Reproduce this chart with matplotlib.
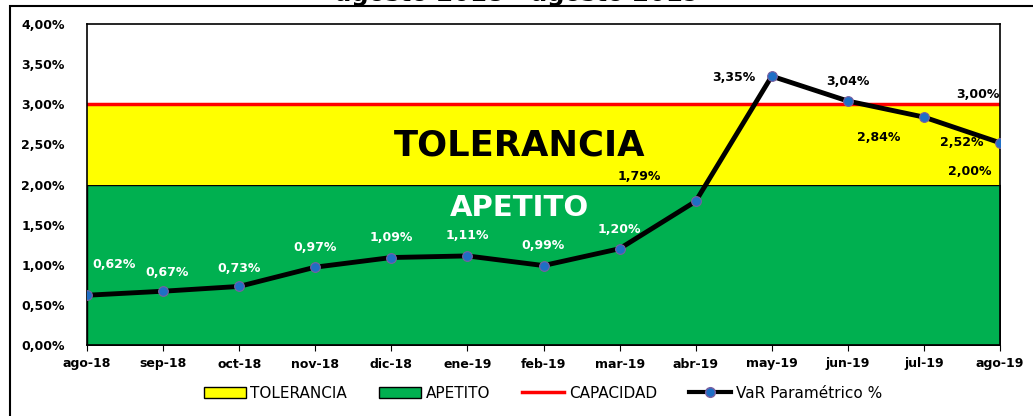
import matplotlib.pyplot as plt
from matplotlib.patches import Rectangle, Patch
from matplotlib.lines import Line2D
from matplotlib.ticker import FuncFormatter

months = ['ago-18', 'sep-18', 'oct-18', 'nov-18', 'dic-18', 'ene-19', 'feb-19',
          'mar-19', 'abr-19', 'may-19', 'jun-19', 'jul-19', 'ago-19']
var_param = [0.62, 0.67, 0.73, 0.97, 1.09, 1.11, 0.99, 1.20, 1.79, 3.35, 3.04, 2.84, 2.52]
apetito = [2.00] * len(months)
tolerancia = [3.00] * len(months)
capacidad = [3.00] * len(months)

# label offsets in pixels (dx, dy) for the VaR labels
label_offsets = [(27, 31), (4, 19), (0, 18), (0, 20), (0, 20), (0, 20), (0, 20),
                 (0, 19), (-56, 25), (-38, -1), (0, 20), (-45, -20), (-38, 0)]


def pct(v, pos=None):
    return f'{v:.2f}%'.replace('.', ',')


fig = plt.figure(figsize=(10.33, 4.16), dpi=100)
ax = fig.add_axes([87 / 1033, 1 - 345 / 416, 913 / 1033, 321 / 416])

x = list(range(len(months)))
ax.fill_between(x, 0, apetito, color='#00B050', edgecolor='black', linewidth=1, zorder=1)
ax.fill_between(x, apetito, tolerancia, color='#FFFF00', linewidth=0, zorder=1)
ax.plot(x, capacidad, color='#FF0000', linewidth=2.5, zorder=2)
ax.plot(x, var_param, color='black', linewidth=3.5, marker='o', markersize=7,
        markerfacecolor='#1F6FC5', markeredgecolor='#7a5fa0', markeredgewidth=0.8, zorder=3)

for i, v in enumerate(var_param):
    col = 'white' if v < 1.5 else 'black'
    ax.annotate(pct(v), (i, v), xytext=label_offsets[i], textcoords='offset pixels',
                ha='center', va='center', fontsize=9, fontweight='bold', color=col, zorder=4)

ax.annotate(pct(tolerancia[-1]), (x[-1], tolerancia[-1]), xytext=(-22, 10), textcoords='offset pixels',
            ha='center', va='center', fontsize=9, fontweight='bold', color='black', zorder=4)
ax.annotate(pct(apetito[-1]), (x[-1], apetito[-1]), xytext=(-30, 13), textcoords='offset pixels',
            ha='center', va='center', fontsize=9, fontweight='bold', color='black', zorder=4)

ax.text(5.685, 2.486, 'TOLERANCIA', ha='center', va='center', fontsize=25.5, fontweight='bold', color='black')
ax.text(5.685, 1.713, 'APETITO', ha='center', va='center', fontsize=21, fontweight='bold', color='white')

ax.set_xlim(0, 12)
ax.set_ylim(0, 4)
ax.set_yticks([0, 0.5, 1, 1.5, 2, 2.5, 3, 3.5, 4])
ax.yaxis.set_major_formatter(FuncFormatter(pct))
ax.set_xticks(x)
ax.set_xticklabels(months)
for lbl in ax.get_xticklabels() + ax.get_yticklabels():
    lbl.set_fontweight('bold')
    lbl.set_fontsize(9)
ax.tick_params(axis='y', length=0, pad=16)
ax.tick_params(axis='x', length=4, direction='out', pad=5)
for s in ax.spines.values():
    s.set_linewidth(1.2)
    s.set_color('black')

# outer chart frame (partly cut off)
fig.add_artist(Rectangle((10 / 1033, -0.1), 1.2, 1.1 - 6 / 416, transform=fig.transFigure,
                         fill=False, edgecolor='black', linewidth=1.5, clip_on=False))
# title sits mostly above the visible area, only its bottom shows
fig.text(335 / 1033, 1 - 0.5 / 416, 'agosto 2018 - agosto 2019', ha='left', va='baseline',
         fontsize=17.5, fontweight='bold')

handles = [Patch(facecolor='#FFFF00', edgecolor='black', label='TOLERANCIA'),
           Patch(facecolor='#00B050', edgecolor='black', label='APETITO'),
           Line2D([], [], color='#FF0000', linewidth=2.5, label='CAPACIDAD'),
           Line2D([], [], color='black', linewidth=3, marker='o', markersize=7,
                  markerfacecolor='#1F6FC5', markeredgecolor='#7a5fa0', label='VaR Paramétrico %')]
fig.legend(handles=handles, loc='center', bbox_to_anchor=(543 / 1033, 1 - 393 / 416), ncol=4,
           frameon=False, fontsize=11, handlelength=2.75, handleheight=0.7, handletextpad=0.3,
           columnspacing=2.1)

fig.savefig('out.png', dpi=100)
